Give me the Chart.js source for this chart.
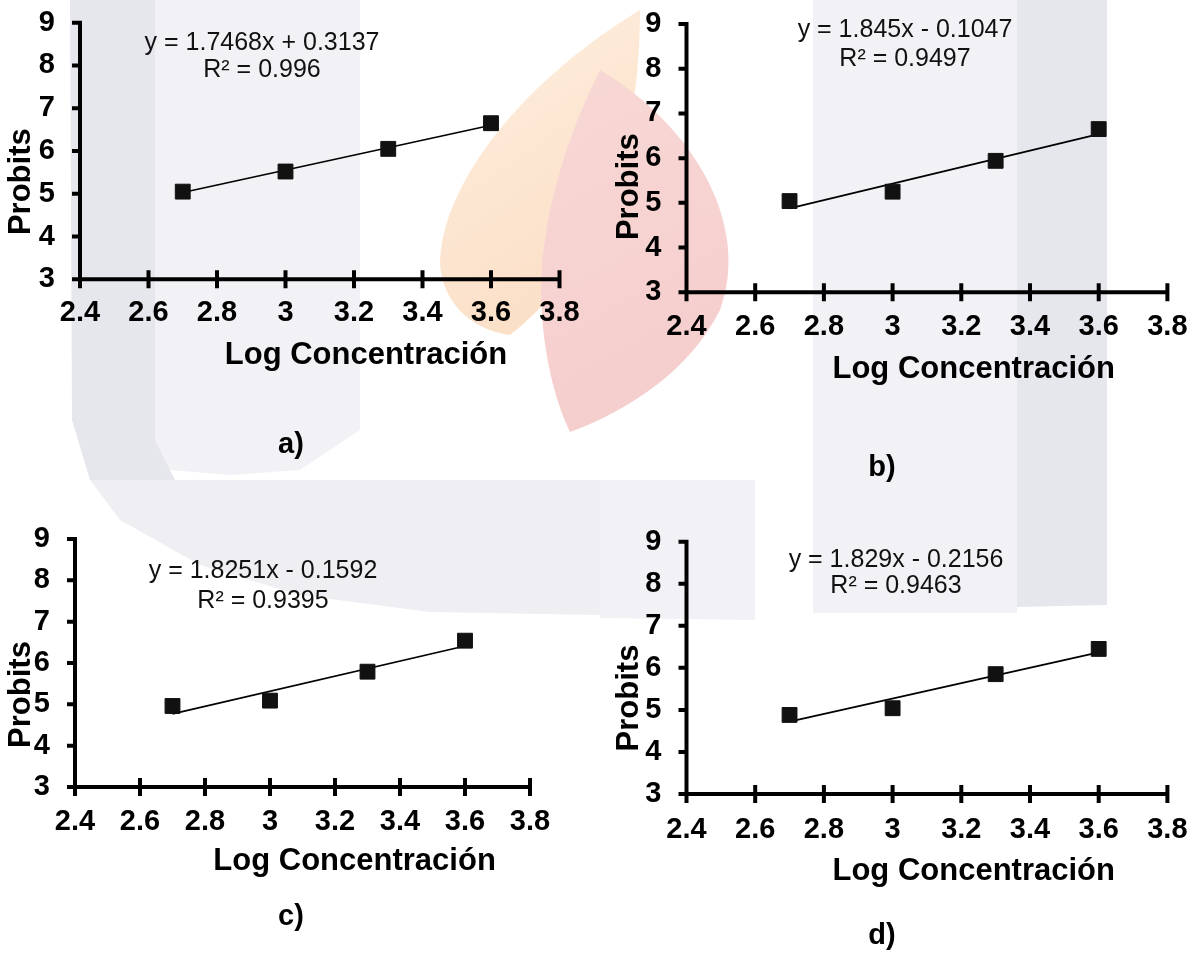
<!DOCTYPE html>
<html>
<head>
<meta charset="utf-8">
<script src="https://cdn.jsdelivr.net/npm/chart.js@4/dist/chart.umd.min.js"></script>
<style>
  html, body { margin: 0; padding: 0; background: #ffffff; }
  body { width: 1196px; height: 972px; position: relative; overflow: hidden; }
  canvas { position: absolute; }
</style>
</head>
<body>
<canvas id="bg" width="1196" height="972" style="left:0;top:0"></canvas>
<canvas id="ca" width="598" height="486" style="left:0;top:0"></canvas>
<canvas id="cb" width="598" height="486" style="left:598px;top:0"></canvas>
<canvas id="cc" width="598" height="486" style="left:0;top:486px"></canvas>
<canvas id="cd" width="598" height="486" style="left:598px;top:486px"></canvas>
<script>
// ---------------- DATA ----------------
const logConc = [2.7, 3.0, 3.3, 3.6];
const probitsA = [5.05, 5.52, 6.05, 6.65];
const probitsB = [5.04, 5.25, 5.94, 6.65];
const probitsC = [4.96, 5.09, 5.79, 6.54];
const probitsD = [4.88, 5.04, 5.85, 6.45];
const slopes = [1.7468, 1.845, 1.8251, 1.829];
const intercepts = [0.3137, -0.1047, -0.1592, -0.2156];
const eqLabels = ['y = 1.7468x + 0.3137', 'y = 1.845x - 0.1047', 'y = 1.8251x - 0.1592', 'y = 1.829x - 0.2156'];
const r2Labels = ['R² = 0.996', 'R² = 0.9497', 'R² = 0.9395', 'R² = 0.9463'];
const panelLabels = ['a)', 'b)', 'c)', 'd)'];
const xTickLabels = ['2.4', '2.6', '2.8', '3', '3.2', '3.4', '3.6', '3.8'];
const yTickLabels = ['3', '4', '5', '6', '7', '8', '9'];
const xAxisTitle = 'Log Concentración';
const yAxisTitle = 'Probits';
const trendX = [2.7, 3.6];

// ---------------- LAYOUT (page coordinates) ----------------
const FONT = '"Liberation Sans", Arial, Helvetica, sans-serif';
const panels = [
  { id: 'ca', ox: 0,   oy: 0,   area: { L: 80,    T: 22.7,  R: 559.5,  B: 279.3 }, xGap: 16,
    eq: { x: 262, y1: 50, y2: 77 }, ytitle: { x: 21, y: 181.7 }, xtitle: { x: 366, y: 364.3 }, tag: { x: 291, y: 453 } },
  { id: 'cb', ox: 598, oy: 0,   area: { L: 686.5, T: 24,    R: 1167.4, B: 292.3 }, xGap: 17,
    eq: { x: 905, y1: 37.3, y2: 66 }, ytitle: { x: 629, y: 186.7 }, xtitle: { x: 973.7, y: 378.3 }, tag: { x: 882, y: 476 } },
  { id: 'cc', ox: 0,   oy: 486, area: { L: 75,    T: 539,   R: 530,    B: 787 }, xGap: 18,
    eq: { x: 263, y1: 578.3, y2: 607.7 }, ytitle: { x: 21.5, y: 694.5 }, xtitle: { x: 354.6, y: 870 }, tag: { x: 291, y: 925 } },
  { id: 'cd', ox: 598, oy: 486, area: { L: 686.5, T: 541.7, R: 1167.4, B: 794 }, xGap: 19,
    eq: { x: 896, y1: 567.3, y2: 593.3 }, ytitle: { x: 629, y: 698 }, xtitle: { x: 973.7, y: 880 }, tag: { x: 882, y: 944 } }
];
const seriesList = [probitsA, probitsB, probitsC, probitsD];

// ---------------- BACKGROUND WATERMARK ----------------
(function drawBg() {
  const c = document.getElementById('bg').getContext('2d');
  function poly(pts, fill) {
    c.beginPath(); c.moveTo(pts[0][0], pts[0][1]);
    for (let i = 1; i < pts.length; i++) c.lineTo(pts[i][0], pts[i][1]);
    c.closePath(); c.fillStyle = fill; c.fill();
  }
  // top-left bands
  poly([[155, 0], [360, 0], [360, 430], [300, 470], [230, 475], [170, 470], [155, 440]], '#f2f2f6');
  poly([[70, 0], [155, 0], [155, 440], [175, 480], [90, 480], [72, 420]], '#e6e6ed');
  // top-right bands
  poly([[813, 0], [1017, 0], [1017, 480], [813, 480]], '#f2f2f6');
  poly([[1017, 0], [1107, 0], [1107, 480], [1017, 480]], '#e6e6ed');
  // flame: orange leaf (left/top) and red leaf (right/bottom)
  const go = c.createLinearGradient(440, 40, 640, 330);
  go.addColorStop(0, '#fdeede');
  go.addColorStop(1, '#fbdcc2');
  c.beginPath();
  c.moveTo(640, 10);
  c.bezierCurveTo(540, 70, 445, 170, 440, 260);
  c.bezierCurveTo(440, 300, 470, 330, 510, 335);
  c.bezierCurveTo(580, 280, 640, 180, 640, 10);
  c.closePath(); c.fillStyle = go; c.fill();
  const gr = c.createLinearGradient(540, 80, 730, 420);
  gr.addColorStop(0, '#f8d8d4');
  gr.addColorStop(1, '#f4cccc');
  c.beginPath();
  c.moveTo(600, 70);
  c.bezierCurveTo(700, 130, 750, 230, 720, 310);
  c.bezierCurveTo(690, 370, 630, 410, 570, 432);
  c.bezierCurveTo(545, 380, 535, 300, 545, 240);
  c.bezierCurveTo(555, 170, 580, 110, 600, 70);
  c.closePath(); c.fillStyle = gr; c.fill();
  // lower arc band
  poly([[90, 480], [600, 480], [600, 615], [430, 612], [300, 595], [200, 565], [120, 520]], '#eeeef3');
  poly([[600, 480], [755, 480], [755, 620], [600, 618]], '#f2f2f6');
  poly([[813, 480], [1017, 480], [1017, 613], [813, 613]], '#f2f2f6');
  poly([[1017, 480], [1107, 480], [1107, 605], [1017, 607]], '#e6e6ed');
})();

// ---------------- CHARTS ----------------
const XH = 80;
const decor = {
  id: 'decor',
  afterDraw(chart, args, opts) {
    const p = opts.panel, k = opts.k;
    const ctx = chart.ctx, a = chart.chartArea, xs = chart.scales.x, ys = chart.scales.y;
    ctx.save();
    ctx.strokeStyle = '#000'; ctx.lineWidth = 4; ctx.lineCap = 'butt';
    ctx.beginPath();
    ctx.moveTo(a.left, a.top - 2); ctx.lineTo(a.left, a.bottom + 2);
    ctx.moveTo(a.left - 8, a.bottom); ctx.lineTo(a.right + 2, a.bottom);
    xs.ticks.forEach(t => { const px = xs.getPixelForValue(t.value); ctx.moveTo(px, a.bottom - 9); ctx.lineTo(px, a.bottom + 9); });
    ys.ticks.forEach(t => { const py = ys.getPixelForValue(t.value); ctx.moveTo(a.left - 8, py); ctx.lineTo(a.left, py); });
    ctx.stroke();
    const ox = p.ox, oy = p.oy;
    // equation + R²
    ctx.font = '25px ' + FONT; ctx.textAlign = 'center'; ctx.textBaseline = 'alphabetic';
    ctx.fillStyle = '#111';
    ctx.fillText(eqLabels[k], p.eq.x - ox, p.eq.y1 - oy);
    ctx.fillText(r2Labels[k], p.eq.x - ox, p.eq.y2 - oy);
    ctx.fillStyle = '#000';
    // x title
    ctx.font = 'bold 31px ' + FONT;
    ctx.fillText(xAxisTitle, p.xtitle.x - ox, p.xtitle.y - oy);
    // panel tag
    ctx.font = 'bold 29px ' + FONT;
    ctx.fillText(panelLabels[k], p.tag.x - ox, p.tag.y - oy);
    // y title
    ctx.translate(p.ytitle.x - ox, p.ytitle.y - oy);
    ctx.rotate(-Math.PI / 2);
    ctx.font = 'bold 31px ' + FONT; ctx.textBaseline = 'middle';
    ctx.fillText(yAxisTitle, 0, 0);
    ctx.restore();
  }
};

panels.forEach((p, k) => {
  const W = 598, H = 486;
  const L = p.area.L - p.ox, T = p.area.T - p.oy, R = p.area.R - p.ox, B = p.area.B - p.oy;
  const pts = logConc.map((x, i) => ({ x: x, y: seriesList[k][i] }));
  const trend = trendX.map(x => ({ x: x, y: slopes[k] * x + intercepts[k] }));
  new Chart(document.getElementById(p.id), {
    type: 'scatter',
    data: {
      datasets: [
        { type: 'line', data: trend, borderColor: '#000', borderWidth: 1.7, pointRadius: 0, fill: false, order: 2 },
        { data: pts, pointStyle: 'rect', pointRadius: 10.5, pointBackgroundColor: '#111', pointBorderColor: '#111', pointBorderWidth: 1, order: 1 }
      ]
    },
    options: {
      responsive: false, animation: false, events: [],
      layout: { autoPadding: false, padding: { left: 0, top: T, right: W - R, bottom: H - B - XH } },
      plugins: { legend: { display: false }, tooltip: { enabled: false }, decor: { panel: p, k: k } },
      scales: {
        x: {
          type: 'linear', min: 2.4, max: 3.8,
          afterFit: s => { s.height = XH; },
          grid: { display: true, drawOnChartArea: false, drawTicks: true, tickLength: p.xGap, tickColor: 'rgba(0,0,0,0)', color: 'rgba(0,0,0,0)' },
          border: { display: false },
          ticks: { stepSize: 0.2, padding: 0, color: '#000', maxRotation: 0, autoSkip: false,
                   font: { family: FONT, size: 29, weight: 'bold' },
                   callback: (v, i) => xTickLabels[i] }
        },
        y: {
          type: 'linear', min: 3, max: 9,
          afterFit: s => { s.width = L; },
          grid: { display: true, drawOnChartArea: false, drawTicks: true, tickLength: 25, tickColor: 'rgba(0,0,0,0)', color: 'rgba(0,0,0,0)' },
          border: { display: false },
          ticks: { stepSize: 1, padding: 0, color: '#000',
                   font: { family: FONT, size: 29, weight: 'bold' },
                   callback: (v, i) => yTickLabels[i] }
        }
      }
    },
    plugins: [decor]
  });
});
</script>
</body>
</html>
